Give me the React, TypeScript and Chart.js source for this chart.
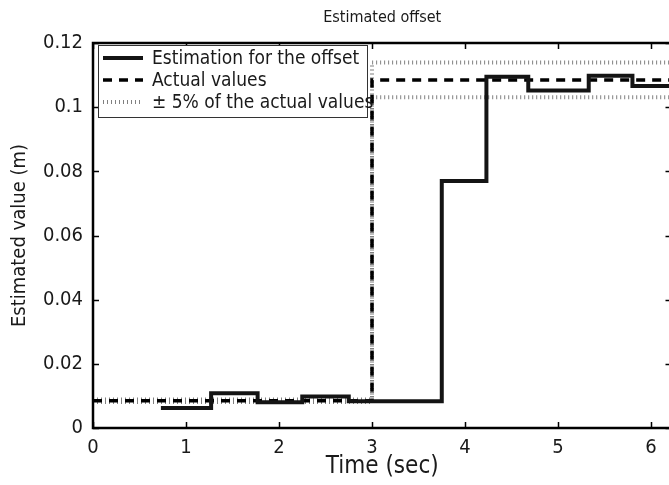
import { useEffect, useRef } from 'react';
import { Chart, registerables } from 'chart.js';

Chart.register(...registerables);

const titleText = 'Estimated offset';
const xTitle = 'Time (sec)';
const yTitle = 'Estimated value (m)';

const estLabel = 'Estimation for the offset';
const actualLabel = 'Actual values';
const bandLabel = '\u00B1 5% of the actual values';

// step series: value holds from its time until the next time
const estTimes = [0.73, 1.27, 1.77, 2.25, 2.75, 3.75, 4.23, 4.68, 5.33, 5.8, 6.4];
const estValues = [0.0062, 0.0108, 0.008, 0.0098, 0.0083, 0.077, 0.1095, 0.1052, 0.1098, 0.1066, 0.1066];
const actualTimes = [0, 3, 6.4];
const actualValues = [0.0085, 0.1085, 0.1085];
const upperValues = [0.0089, 0.1139, 0.1139];
const lowerValues = [0.0081, 0.1031, 0.1031];

const xTicks = [0, 1, 2, 3, 4, 5, 6];
const xTickLabels = ['0', '1', '2', '3', '4', '5', '6'];
const yTicks = [0, 0.02, 0.04, 0.06, 0.08, 0.1, 0.12];
const yTickLabels = ['0', '0.02', '0.04', '0.06', '0.08', '0.1', '0.12'];

const FONT = "'DejaVu Sans Condensed', 'DejaVu Sans', Verdana, sans-serif";
const TEXT = '#1a1a1a';

const framePlugin = {
  id: 'frame',
  afterDatasetsDraw(chart: any) {
    const { ctx, chartArea: a, scales } = chart;
    ctx.save();
    ctx.strokeStyle = '#000';
    ctx.lineWidth = 1.5;
    const tl = 6;
    ctx.beginPath();
    xTicks.forEach((v) => {
      const px = Math.round(scales.x.getPixelForValue(v)) + 0.5;
      ctx.moveTo(px, a.bottom);
      ctx.lineTo(px, a.bottom - tl);
      ctx.moveTo(px, a.top);
      ctx.lineTo(px, a.top + tl);
    });
    yTicks.forEach((v) => {
      const py = Math.round(scales.y.getPixelForValue(v)) + 0.5;
      ctx.moveTo(a.left, py);
      ctx.lineTo(a.left + tl, py);
      ctx.moveTo(a.right, py);
      ctx.lineTo(a.right - tl, py);
    });
    ctx.stroke();
    ctx.lineWidth = 2.5;
    ctx.strokeRect(a.left, a.top, a.right - a.left, a.bottom - a.top);
    // title centred over the plot area
    ctx.fillStyle = TEXT;
    ctx.font = `16px ${FONT}`;
    ctx.textAlign = 'center';
    ctx.textBaseline = 'middle';
    ctx.fillText(titleText, (a.left + a.right) / 2, 18);
    ctx.restore();
  },
};

const legendPlugin = {
  id: 'boxLegend',
  afterDraw(chart: any) {
    const { ctx } = chart;
    const ds = chart.data.datasets.filter((d: any) => d.label);
    const bx = 98, by = 45, bw = 269, bh = 72;
    ctx.save();
    ctx.fillStyle = '#fff';
    ctx.fillRect(bx, by, bw, bh);
    ctx.strokeStyle = '#333';
    ctx.lineWidth = 1;
    ctx.strokeRect(bx + 0.5, by + 0.5, bw, bh);
    ds.forEach((d: any, i: number) => {
      const cy = 58 + i * 22;
      ctx.beginPath();
      ctx.strokeStyle = d.borderColor;
      ctx.lineWidth = d.borderWidth;
      ctx.setLineDash(d.borderDash || []);
      ctx.moveTo(103, cy);
      ctx.lineTo(143, cy);
      ctx.stroke();
      ctx.setLineDash([]);
      ctx.fillStyle = TEXT;
      ctx.font = `19px ${FONT}`;
      ctx.textBaseline = 'middle';
      ctx.textAlign = 'left';
      ctx.fillText(d.label, 152, cy + 1);
    });
    ctx.restore();
  },
};

const toPts = (xs: number[], ys: number[]) => xs.map((x, i) => ({ x, y: ys[i] }));

export default function App() {
  const ref = useRef<HTMLCanvasElement | null>(null);
  useEffect(() => {
    if (!ref.current) return;
    const chart = new Chart(ref.current, {
      type: 'line',
      data: {
        datasets: [
          {
            label: estLabel,
            data: toPts(estTimes, estValues),
            stepped: 'before',
            borderColor: '#141414',
            borderWidth: 4,
            pointRadius: 0,
            fill: false,
          },
          {
            label: actualLabel,
            data: toPts(actualTimes, actualValues),
            stepped: 'before',
            borderColor: '#000',
            borderWidth: 3.5,
            borderDash: [9, 7],
            pointRadius: 0,
            fill: false,
          },
          {
            label: bandLabel,
            data: toPts(actualTimes, upperValues),
            stepped: 'before',
            borderColor: '#808080',
            borderWidth: 4,
            borderDash: [1, 3],
            pointRadius: 0,
            fill: false,
          },
          {
            label: '',
            data: toPts(actualTimes, lowerValues),
            stepped: 'before',
            borderColor: '#808080',
            borderWidth: 4,
            borderDash: [1, 3],
            pointRadius: 0,
            fill: false,
          },
        ],
      } as any,
      options: {
        animation: false,
        responsive: false,
        parsing: false as any,
        layout: { padding: { left: 0, right: 8.5, top: 43, bottom: 0 } },
        plugins: {
          legend: { display: false },
          tooltip: { enabled: false },
          title: { display: false },
        },
        scales: {
          x: {
            type: 'linear',
            min: 0,
            max: 6.22,
            grid: { display: false, drawTicks: false },
            border: { display: false },
            afterBuildTicks: (s: any) => {
              s.ticks = xTicks.map((v) => ({ value: v }));
            },
            afterFit: (s: any) => {
              s.height = 57;
            },
            ticks: {
              autoSkip: false,
              maxRotation: 0,
              padding: 8,
              color: TEXT,
              font: { family: FONT, size: 20 },
              callback: (_v: any, i: number) => xTickLabels[i],
            },
            title: {
              display: true,
              text: xTitle,
              color: TEXT,
              font: { family: FONT, size: 24 },
              padding: { top: 0, bottom: 4 },
            },
          },
          y: {
            type: 'linear',
            min: 0,
            max: 0.12,
            grid: { display: false, drawTicks: false },
            border: { display: false },
            afterBuildTicks: (s: any) => {
              s.ticks = yTicks.map((v) => ({ value: v }));
            },
            afterFit: (s: any) => {
              s.width = 93;
            },
            ticks: {
              autoSkip: false,
              padding: 10,
              color: TEXT,
              font: { family: FONT, size: 20 },
              callback: (_v: any, i: number) => yTickLabels[i],
            },
            title: {
              display: true,
              text: yTitle,
              color: TEXT,
              font: { family: FONT, size: 20 },
              padding: { top: 8, bottom: 0 },
            },
          },
        },
      } as any,
      plugins: [framePlugin, legendPlugin],
    });
    return () => chart.destroy();
  }, []);

  return (
    <div
      style={{
        position: 'fixed',
        left: 0,
        top: 0,
        width: 669,
        height: 485,
        overflow: 'hidden',
        background: '#fff',
      }}
    >
      <canvas ref={ref} width={680} height={485} style={{ display: 'block', width: 680, height: 485 }} />
    </div>
  );
}
